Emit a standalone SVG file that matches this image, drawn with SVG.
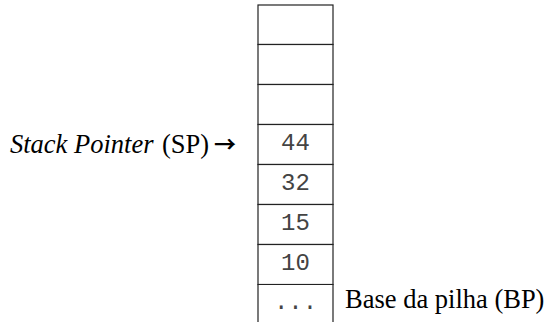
<svg xmlns="http://www.w3.org/2000/svg" width="547" height="322" viewBox="0 0 547 322">
<style>
.cell{fill:#fff;stroke:#222;stroke-width:1.2}
.v{font-family:"Liberation Mono","Courier New",monospace;font-size:24px;fill:#444;text-anchor:middle}
.lbl{font-family:"Liberation Serif","Times New Roman",serif;font-size:26.5px;fill:#000}
</style>
<rect width="547" height="322" fill="#fff"/>
<g id="stack">
<g id="cell1"><rect class="cell" x="258" y="5" width="75" height="39.5"/></g>
<g id="cell2"><rect class="cell" x="258" y="44.5" width="75" height="40"/></g>
<g id="cell3"><rect class="cell" x="258" y="84.5" width="75" height="40"/></g>
<g id="cell4"><rect class="cell" x="258" y="124.5" width="75" height="40"/><text class="v" x="295.5" y="149.5">44</text></g>
<g id="cell5"><rect class="cell" x="258" y="164.5" width="75" height="40"/><text class="v" x="295.5" y="189.5">32</text></g>
<g id="cell6"><rect class="cell" x="258" y="204.5" width="75" height="40"/><text class="v" x="295.5" y="229.5">15</text></g>
<g id="cell7"><rect class="cell" x="258" y="244.5" width="75" height="40"/><text class="v" x="295.5" y="269.5">10</text></g>
<g id="cell8"><path class="cell" d="M258,323 V284.5 H333 V323" fill="none"/><text class="v" x="295.5" y="309">...</text></g>
</g>
<g id="sp-label"><text class="lbl" y="153"><tspan x="10" font-style="italic">Stack Pointer</tspan><tspan x="162">(SP)</tspan></text><text x="225" y="152" text-anchor="middle" font-family="Noto Sans CJK SC,DejaVu Sans,sans-serif" font-size="22" font-weight="bold" fill="#000">→</text></g>
<g id="bp-label"><text class="lbl" x="345" y="307.5">Base da pilha (BP)</text></g>
</svg>
